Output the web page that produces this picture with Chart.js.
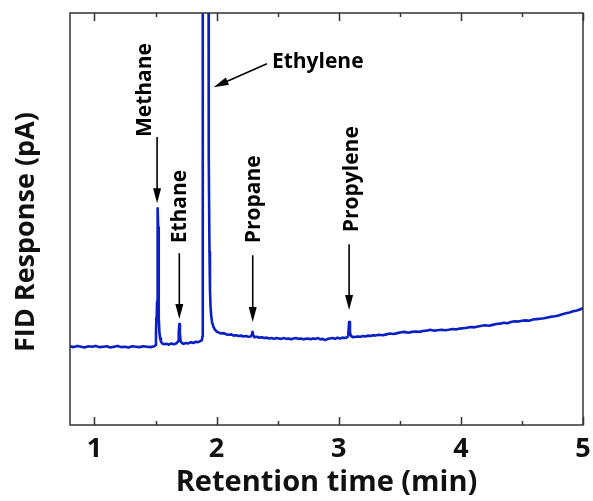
<!DOCTYPE html>
<html>
<head>
<meta charset="utf-8">
<script src="https://cdn.jsdelivr.net/npm/chart.js@4.4.1/dist/chart.umd.min.js"></script>
<style>
  html, body { margin: 0; padding: 0; background: #fff; }
  #wrap { width: 593px; height: 501px; }
</style>
</head>
<body>
<div id="wrap"><canvas id="fidChart" width="593" height="501"></canvas></div>
<script>
// retention time (min) and FID signal (arbitrary units, 0-100 = full plot height)
const retentionTime = [
  0.80, 0.83, 0.86, 0.89, 0.92, 0.95, 0.98, 1.01, 1.04, 1.07, 1.10, 1.13, 1.16, 1.19, 1.22, 1.25,
  1.28, 1.31, 1.34, 1.37, 1.40, 1.43, 1.46, 1.49,
  1.500, 1.504, 1.507, 1.510, 1.513, 1.516, 1.519, 1.522, 1.525, 1.528, 1.532, 1.538, 1.545, 1.555, 1.570,
  1.59, 1.61, 1.63, 1.65, 1.67, 1.685, 1.690, 1.695, 1.700, 1.705, 1.715, 1.73, 1.75, 1.77, 1.79, 1.81,
  1.83, 1.85, 1.87, 1.880, 1.884, 1.886, 1.888, 1.900, 1.915, 1.928, 1.931, 1.934, 1.938, 1.942, 1.946,
  1.950, 1.956, 1.963, 1.972, 1.985, 2.000, 2.02, 2.04, 2.06, 2.08, 2.10, 2.12, 2.14, 2.16, 2.18, 2.20,
  2.22, 2.24, 2.26, 2.28, 2.288, 2.294, 2.300, 2.31, 2.33, 2.35, 2.37, 2.39, 2.41, 2.43, 2.45, 2.47,
  2.49, 2.51, 2.53, 2.55, 2.57, 2.59, 2.61, 2.63, 2.65, 2.67, 2.69, 2.71, 2.73, 2.75, 2.77, 2.79,
  2.81, 2.83, 2.85, 2.87, 2.89, 2.91, 2.93, 2.95, 2.97, 2.99, 3.01, 3.03, 3.05, 3.07, 3.078, 3.085,
  3.092, 3.10, 3.12, 3.14, 3.16, 3.18, 3.20, 3.22, 3.24, 3.26, 3.28, 3.30, 3.33, 3.36, 3.39, 3.42,
  3.45, 3.48, 3.51, 3.54, 3.57, 3.60, 3.63, 3.66, 3.69, 3.72, 3.75, 3.78, 3.81, 3.84, 3.87, 3.90,
  3.93, 3.96, 3.99, 4.02, 4.05, 4.08, 4.11, 4.14, 4.17, 4.20, 4.23, 4.26, 4.29, 4.32, 4.35, 4.38,
  4.41, 4.44, 4.47, 4.50, 4.53, 4.56, 4.59, 4.62, 4.65, 4.68, 4.71, 4.74, 4.77, 4.80, 4.83, 4.86,
  4.89, 4.92, 4.95, 4.98, 5.00
];
const fidResponse = [
  19.1, 18.9, 19.2, 19.0, 18.8, 19.1, 19.0, 19.2, 18.9, 19.0, 19.1, 18.8, 19.0, 19.2, 18.9, 19.0,
  18.8, 19.1, 19.0, 18.9, 19.1, 19.0, 18.9, 19.1,
  19.4, 22.0, 26.0, 26.5, 30.0, 45.0, 52.6, 48.0, 35.0, 26.0, 22.5, 21.0, 20.2, 19.8, 19.6,
  19.7, 19.5, 19.8, 19.6, 19.8, 20.3, 22.5, 24.5, 22.3, 20.5, 19.9, 19.7, 19.9, 19.8, 20.1, 19.9,
  20.2, 20.1, 20.4, 20.6, 21.5, 60.0, 900, 1500, 1600, 900, 200, 110, 65.0, 42.0, 33.0,
  29.0, 26.5, 25.0, 24.0, 23.2, 22.7, 22.4, 22.2, 22.3, 22.0, 21.9, 22.0, 21.7, 21.8, 21.6, 21.7,
  21.5, 21.6, 21.4, 21.5, 21.8, 22.6, 21.8, 21.3, 21.4, 21.2, 21.3, 21.1, 21.2, 21.0, 21.1, 20.9,
  21.1, 21.0, 20.9, 21.1, 20.9, 21.0, 20.8, 21.0, 21.1, 20.9, 21.0, 20.8, 20.9, 21.0, 20.8, 21.0,
  20.9, 21.1, 20.8, 20.9, 20.6, 20.9, 21.0, 21.1, 20.9, 21.2, 21.0, 21.2, 21.1, 21.3, 21.8, 25.0,
  22.5, 21.6, 21.3, 21.4, 21.5, 21.4, 21.6, 21.5, 21.7, 21.6, 21.8, 21.7, 21.9, 21.8, 22.0, 22.2,
  22.1, 22.3, 22.5, 22.6, 22.4, 22.6, 22.7, 22.6, 22.8, 22.9, 23.1, 22.9, 23.0, 23.1, 23.0, 23.1,
  23.3, 23.2, 23.4, 23.5, 23.6, 23.8, 23.7, 23.9, 24.1, 24.2, 24.1, 24.3, 24.5, 24.6, 24.8, 24.7,
  25.0, 25.2, 25.1, 25.3, 25.4, 25.3, 25.6, 25.7, 25.8, 25.9, 26.1, 26.3, 26.4, 26.6, 26.9, 27.1,
  27.3, 27.6, 27.8, 28.1, 28.4
];
const xTicks = [1, 1.5, 2, 2.5, 3, 3.5, 4, 4.5, 5];

// peak labels: vertical text above a down arrow (x in min, y in signal units)
const peakNames  = ['Methane', 'Ethane', 'Propane', 'Propylene'];
const peakLabelX = [1.417, 1.703, 2.304, 3.105];
const peakLabelY = [69.9, 44.1, 44.1, 46.8];
const peakArrowX = [1.513, 1.695, 2.296, 3.085];
const peakArrowFrom = [69.9, 41.7, 41.2, 43.9];
const peakArrowTo   = [53.8, 25.7, 25.0, 27.9];

// ethylene label sits to the right, with a slanted arrow
const ethyleneLabel = { text: 'Ethylene', x: 2.453, y: 88.0 };
const ethyleneArrow = { x1: 2.412, y1: 87.7, x2: 1.976, y2: 82.0 };

const FONT = "'Open Sans', 'DejaVu Sans', sans-serif";
Chart.defaults.font.family = FONT;

function drawArrow(ctx, x1, y1, x2, y2) {
  const ang = Math.atan2(y2 - y1, x2 - x1);
  const head = 15, half = 4;
  const bx = x2 - head * Math.cos(ang), by = y2 - head * Math.sin(ang);
  ctx.beginPath();
  ctx.moveTo(x1, y1);
  ctx.lineTo(bx + 2 * Math.cos(ang), by + 2 * Math.sin(ang));
  ctx.stroke();
  ctx.beginPath();
  ctx.moveTo(x2, y2);
  ctx.lineTo(bx + half * Math.sin(ang), by - half * Math.cos(ang));
  ctx.lineTo(bx - half * Math.sin(ang), by + half * Math.cos(ang));
  ctx.closePath();
  ctx.fill();
}

const decorPlugin = {
  id: 'chromDecor',
  afterDatasetsDraw(chart) {
    const { ctx, chartArea: a, scales: { x, y } } = chart;
    ctx.save();

    // frame around the plot
    ctx.strokeStyle = '#333';
    ctx.lineWidth = 1.5;
    ctx.strokeRect(a.left, a.top, a.right - a.left, a.bottom - a.top);

    // inward ticks, top and bottom
    x.ticks.forEach(t => {
      const px = Math.round(x.getPixelForValue(t.value)) + 0.5;
      const len = Number.isInteger(t.value) ? 8 : 4;
      ctx.beginPath();
      ctx.moveTo(px, a.bottom); ctx.lineTo(px, a.bottom - len);
      ctx.moveTo(px, a.top); ctx.lineTo(px, a.top + len);
      ctx.stroke();
    });

    // peak annotations
    ctx.fillStyle = '#000';
    ctx.strokeStyle = '#000';
    ctx.lineWidth = 1.6;
    ctx.font = 'bold 21px ' + FONT;
    peakNames.forEach((name, i) => {
      ctx.save();
      ctx.translate(x.getPixelForValue(peakLabelX[i]), y.getPixelForValue(peakLabelY[i]));
      ctx.rotate(-Math.PI / 2);
      ctx.textAlign = 'left';
      ctx.textBaseline = 'middle';
      ctx.fillText(name, 0, 0);
      ctx.restore();
      const ax = x.getPixelForValue(peakArrowX[i]);
      drawArrow(ctx, ax, y.getPixelForValue(peakArrowFrom[i]), ax, y.getPixelForValue(peakArrowTo[i]));
    });

    ctx.textAlign = 'left';
    ctx.textBaseline = 'middle';
    ctx.fillText(ethyleneLabel.text, x.getPixelForValue(ethyleneLabel.x), y.getPixelForValue(ethyleneLabel.y));
    drawArrow(ctx,
      x.getPixelForValue(ethyleneArrow.x1), y.getPixelForValue(ethyleneArrow.y1),
      x.getPixelForValue(ethyleneArrow.x2), y.getPixelForValue(ethyleneArrow.y2));

    // y axis title
    ctx.save();
    ctx.font = 'bold 27px ' + FONT;
    ctx.fillStyle = '#111';
    ctx.translate(26, 232);
    ctx.rotate(-Math.PI / 2);
    ctx.textAlign = 'center';
    ctx.textBaseline = 'middle';
    ctx.fillText('FID Response (pA)', 0, 0);
    ctx.restore();

    ctx.restore();
  }
};

new Chart(document.getElementById('fidChart'), {
  type: 'line',
  data: {
    datasets: [{
      label: 'FID',
      data: retentionTime.map((t, i) => ({ x: t, y: fidResponse[i] })),
      borderColor: '#0b20c4',
      borderWidth: 2.6,
      borderJoinStyle: 'round',
      pointRadius: 0,
      tension: 0,
      fill: false
    }]
  },
  options: {
    responsive: false,
    animation: false,
    layout: { padding: { left: 70, right: 10, top: 13, bottom: 0 } },
    plugins: { legend: { display: false }, tooltip: { enabled: false } },
    scales: {
      x: {
        type: 'linear',
        min: 0.8,
        max: 5,
        afterBuildTicks: s => { s.ticks = xTicks.map(v => ({ value: v })); },
        afterFit: s => { s.height = 76; s.paddingLeft = 0; s.paddingRight = 0; },
        grid: { display: false, drawTicks: false },
        border: { display: false },
        ticks: {
          autoSkip: false,
          maxRotation: 0,
          padding: 8,
          color: '#111',
          font: { size: 27, weight: 'bold' },
          callback: v => Number.isInteger(v) ? v : ''
        },
        title: {
          display: true,
          text: 'Retention time (min)',
          color: '#111',
          font: { size: 29, weight: 'bold' },
          padding: { top: 0, bottom: 1 }
        }
      },
      y: {
        display: false,
        min: 0,
        max: 100
      }
    }
  },
  plugins: [decorPlugin]
});
</script>
</body>
</html>
